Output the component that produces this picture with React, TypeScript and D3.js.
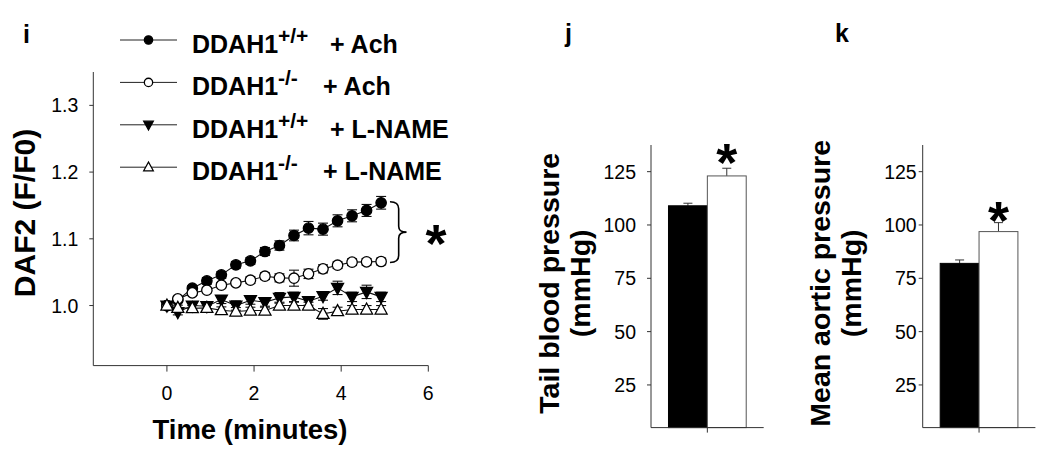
import React from "react";
import * as d3 from "d3";

// panel i: DAF2 fluorescence over time
const times = [0, 0.25, 0.583, 0.917, 1.25, 1.583, 1.917, 2.25, 2.583, 2.917, 3.25, 3.583, 3.917, 4.25, 4.583, 4.917];
const wtAch = [1.0, 1.008, 1.026, 1.037, 1.046, 1.061, 1.067, 1.081, 1.09, 1.105, 1.116, 1.1145, 1.127, 1.1345, 1.1425, 1.154];
const wtAchErr = [0, 0.003, 0.004, 0.005, 0.005, 0.005, 0.005, 0.006, 0.007, 0.008, 0.01, 0.009, 0.009, 0.009, 0.009, 0.0095];
const koAch = [1.0, 1.01, 1.019, 1.023, 1.0305, 1.034, 1.038, 1.044, 1.0415, 1.041, 1.0475, 1.055, 1.0605, 1.065, 1.0655, 1.066];
const koAchErr = [0, 0.004, 0.004, 0.004, 0.004, 0.004, 0.005, 0.005, 0.006, 0.012, 0.007, 0.006, 0.005, 0.005, 0.005, 0.005];
const wtName = [1.0, 0.99, 1.0, 0.999, 1.009, 1.0, 1.008, 1.005, 1.0115, 1.013, 1.0065, 1.014, 1.0265, 1.013, 1.0205, 1.013];
const wtNameErr = [0, 0.004, 0.005, 0.005, 0.006, 0.007, 0.006, 0.006, 0.008, 0.007, 0.006, 0.006, 0.01, 0.007, 0.01, 0.007];
const koName = [1.0, 0.9965, 0.996, 0.9965, 0.993, 0.991, 0.9925, 0.9925, 1.0, 1.0, 1.0, 0.9875, 0.9915, 0.994, 0.994, 0.994];
const koNameErr = [0, 0.004, 0.004, 0.004, 0.005, 0.006, 0.005, 0.005, 0.005, 0.005, 0.005, 0.008, 0.006, 0.006, 0.006, 0.006];

const seriesNames = ["+/+|+ Ach", "-/-|+ Ach", "+/+|+ L-NAME", "-/-|+ L-NAME"];
const xTicksI = [0, 2, 4, 6];
const yTicksI = [1.0, 1.1, 1.2, 1.3];

// panels j, k: blood pressure bars
const groups = ["DDAH1+/+", "DDAH1-/-"];
const tailBP = [109, 123];
const tailBPErr = [1.2, 3.6];
const aorticBP = [82, 96.9];
const aorticBPErr = [1.6, 4.2];
const yTicksBar = [25, 50, 75, 100, 125];

const FONT = "'Liberation Sans', Arial, Helvetica, sans-serif";
const AX = "#333";

type Kind = "fc" | "oc" | "ft" | "ot";

const Marker = ({ kind, x, y, s = 1 }: { kind: Kind; x: number; y: number; s?: number }) => {
  const filled = kind === "fc" || kind === "ft";
  const fill = filled ? "#000" : "#fff";
  if (kind === "fc" || kind === "oc")
    return <circle cx={x} cy={y} r={5.2 * s} fill={fill} stroke="#000" strokeWidth={1.3} />;
  const h = 6 * s;
  const pts =
    kind === "ft"
      ? [[x - h, y - 4.5 * s], [x + h, y - 4.5 * s], [x, y + 6.5 * s]]
      : [[x - h, y + 4.5 * s], [x + h, y + 4.5 * s], [x, y - 6.5 * s]];
  return <polygon points={pts.map((p) => p.join(",")).join(" ")} fill={fill} stroke="#000" strokeWidth={1.3} />;
};

const PanelI = () => {
  const x = d3.scaleLinear().domain([-1.69, 6]).range([93.3, 428.3]);
  const y = d3.scaleLinear().domain([0.91, 1.35]).range([365.6, 72]);
  const series: { v: number[]; e: number[]; kind: Kind }[] = [
    { v: wtAch, e: wtAchErr, kind: "fc" },
    { v: koAch, e: koAchErr, kind: "oc" },
    { v: wtName, e: wtNameErr, kind: "ft" },
    { v: koName, e: koNameErr, kind: "ot" },
  ];
  const line = d3.line<number>().x((_, i) => x(times[i])).y((d) => y(d));
  const n = times.length - 1;
  const top = y(wtAch[n]) - 1;
  const bot = y(koAch[n]) + 1;
  const mid = (top + bot) / 2;
  const xL = x(5.12), xM = x(5.32), xT = x(5.5);
  const brace = `M${xL},${top} Q${xM},${top} ${xM},${top + 7} L${xM},${mid - 6} Q${xM},${mid} ${xT},${mid} Q${xM},${mid} ${xM},${mid + 6} L${xM},${bot - 7} Q${xM},${bot} ${xL},${bot}`;
  const [x0, x1] = x.range();
  const [y0, y1] = y.range();
  return (
    <g fontFamily={FONT}>
      <text x={23} y={43} fontSize={25} fontWeight="bold">i</text>
      {/* axes */}
      <line x1={x0} x2={x0} y1={y0} y2={y1} stroke={AX} />
      <line x1={x0} x2={x1} y1={y0} y2={y0} stroke={AX} />
      {yTicksI.map((t) => (
        <g key={t}>
          <line x1={x0 - 4} x2={x0} y1={y(t)} y2={y(t)} stroke={AX} />
          <text x={x0 - 15} y={y(t) + 7} fontSize={19.5} textAnchor="end">{d3.format(".1f")(t)}</text>
        </g>
      ))}
      {xTicksI.map((t) => (
        <g key={t}>
          <line x1={x(t)} x2={x(t)} y1={y0} y2={y0 + 6} stroke={AX} />
          <text x={x(t)} y={400} fontSize={19.5} textAnchor="middle">{t}</text>
        </g>
      ))}
      <text x={250} y={439} fontSize={27.5} fontWeight="bold" textAnchor="middle">Time (minutes)</text>
      <text transform="translate(35,213) rotate(-90)" fontSize={30} fontWeight="bold" textAnchor="middle">DAF2 (F/F0)</text>
      {/* data */}
      {series.map((s, si) => (
        <g key={si}>
          <path d={line(s.v) || ""} fill="none" stroke="#111" strokeWidth={1.1} />
          {s.v.map((v, i) =>
            s.e[i] > 0 ? (
              <g key={i} stroke="#111" strokeWidth={1.1}>
                <line x1={x(times[i])} x2={x(times[i])} y1={y(v - s.e[i])} y2={y(v + s.e[i])} />
                <line x1={x(times[i]) - 5} x2={x(times[i]) + 5} y1={y(v + s.e[i])} y2={y(v + s.e[i])} />
                <line x1={x(times[i]) - 5} x2={x(times[i]) + 5} y1={y(v - s.e[i])} y2={y(v - s.e[i])} />
              </g>
            ) : null
          )}
          {s.v.map((v, i) => (
            <Marker key={i} kind={s.kind} x={x(times[i])} y={y(v)} />
          ))}
        </g>
      ))}
      <path d={brace} fill="none" stroke="#000" strokeWidth={1.6} />
      <text x={436} y={231.7 + 0.57 * 54} fontSize={54} fontWeight="bold" textAnchor="middle">*</text>
      {/* legend */}
      {seriesNames.map((name, i) => {
        const ry = 40 + i * 42.4;
        const [sup, rest] = name.split("|");
        return (
          <g key={name}>
            <line x1={120} x2={177} y1={ry} y2={ry} stroke="#222" />
            <Marker kind={series[i].kind} x={148.5} y={ry} s={0.8} />
            <text x={192} y={ry + 13} fontSize={25} fontWeight="bold">DDAH1</text>
            <text x={278} y={ry + 3} fontSize={21} fontWeight="bold">{sup}</text>
            <text x={sup === "+/+" ? 330 : 323} y={ry + 13} fontSize={25} fontWeight="bold">{rest}</text>
          </g>
        );
      })}
    </g>
  );
};

const BarPanel = ({
  axisX, values, errs, label, letter, letterX, labelX, sub, star,
}: {
  axisX: number; values: number[]; errs: number[]; label: string; letter: string; letterX: number; labelX: number; sub: number; star: number;
}) => {
  const y = d3.scaleLinear().domain([5, 137.5]).range([427.6, 145]);
  const x = d3.scaleBand<string>().domain(groups).range([axisX, axisX + 112.7]).paddingInner(0).paddingOuter(0.45);
  const [y0, y1] = y.range();
  const mid = x(groups[1]) as number;
  return (
    <g fontFamily={FONT}>
      <text x={letterX} y={42} fontSize={25} fontWeight="bold">{letter}</text>
      {groups.map((g, i) => (
        <g key={g}>
          <line x1={(x(g) as number) + x.bandwidth() / 2} x2={(x(g) as number) + x.bandwidth() / 2}
            y1={y(values[i])} y2={y(values[i] + errs[i])} stroke="#333" />
          <line x1={(x(g) as number) + x.bandwidth() / 2 - 4.5} x2={(x(g) as number) + x.bandwidth() / 2 + 4.5}
            y1={y(values[i] + errs[i])} y2={y(values[i] + errs[i])} stroke="#333" />
          <rect x={x(g)} y={y(values[i])} width={x.bandwidth()} height={y0 - y(values[i])}
            fill={i === 0 ? "#000" : "#fff"} stroke={i === 0 ? "#000" : "#555"} strokeWidth={1} />
        </g>
      ))}
      <line x1={axisX} x2={axisX} y1={y0} y2={y1} stroke={AX} />
      <line x1={axisX} x2={axisX + 112.7} y1={y0} y2={y0} stroke={AX} />
      <line x1={mid} x2={mid} y1={y0} y2={y0 + 5} stroke={AX} />
      {yTicksBar.map((t) => (
        <g key={t}>
          <line x1={axisX - 4} x2={axisX} y1={y(t)} y2={y(t)} stroke={AX} />
          <text x={axisX - sub} y={y(t) + 7} fontSize={19.5} textAnchor="end">{t}</text>
        </g>
      ))}
      <text transform={`translate(${labelX},${(y0 + y1) / 2 - 3}) rotate(-90)`} fontSize={28.5} fontWeight="bold" textAnchor="middle">{label}</text>
      <text transform={`translate(${labelX + 31},${(y0 + y1) / 2 - 3}) rotate(-90)`} fontSize={28.5} fontWeight="bold" textAnchor="middle">(mmHg)</text>
      <text x={(x(groups[1]) as number) + x.bandwidth() / 2} y={star + 0.57 * 54} fontSize={54} fontWeight="bold" textAnchor="middle">*</text>
    </g>
  );
};

const App = () => (
  <div style={{ position: "absolute", left: 0, top: 0 }}>
    <svg width={1050} height={463} style={{ display: "block", background: "#fff" }}>
      <PanelI />
      <BarPanel axisX={651} values={tailBP} errs={tailBPErr} label="Tail blood pressure" letter="j" letterX={565} labelX={559} sub={15} star={150} />
      <BarPanel axisX={922.7} values={aorticBP} errs={aorticBPErr} label="Mean aortic pressure" letter="k" letterX={835} labelX={830} sub={6} star={208} />
    </svg>
  </div>
);

export default App;
